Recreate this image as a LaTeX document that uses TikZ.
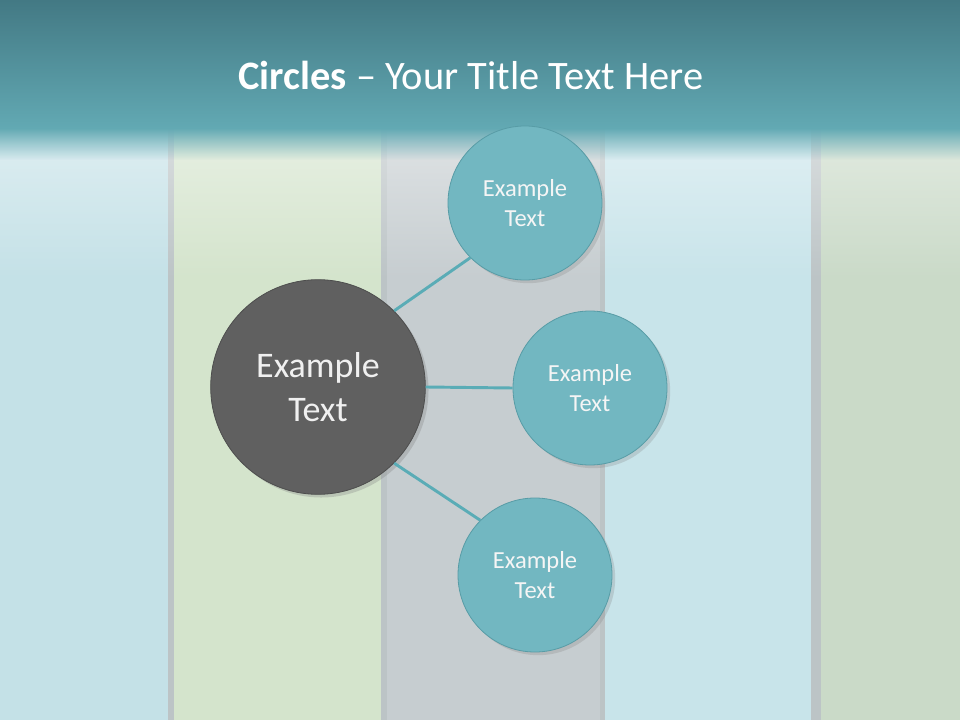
\documentclass[tikz,border=0pt]{standalone}
\usepackage{fontspec}
\setmainfont{Carlito}
\usetikzlibrary{positioning, calc, shadows, fadings}
\definecolor{headtop}{RGB}{67, 121, 132}
\definecolor{headbottom}{RGB}{98, 169, 179}
\definecolor{plankblue}{RGB}{196, 225, 231}
\definecolor{plankgreen}{RGB}{212, 228, 204}
\definecolor{plankgray}{RGB}{198, 205, 208}
\definecolor{plankaqua}{RGB}{200, 228, 234}
\definecolor{planksage}{RGB}{202, 218, 200}
\definecolor{plankgap}{RGB}{188, 196, 198}
\definecolor{circleteal}{RGB}{114, 183, 193}
\definecolor{circleedge}{RGB}{88, 156, 166}
\definecolor{circlegray}{RGB}{96, 96, 96}
\definecolor{linkteal}{RGB}{90, 172, 182}
\tikzfading[name=fadedown, top color=transparent!0, bottom color=transparent!100]

\begin{document}
\begin{tikzpicture}[x=0.75pt, y=-0.75pt,
    hubcircle/.style={circle, fill=circlegray, draw=circlegray!80!black, line width=0.6pt,
        minimum size=161pt, inner sep=0pt, align=center, text=white!94!black,
        font=\fontsize{27}{33}\selectfont, drop shadow={opacity=0.3}},
    leafcircle/.style={circle, fill=circleteal, draw=circleedge, line width=0.6pt,
        minimum size=115.5pt, inner sep=0pt, align=center, text=white!96!black,
        font=\fontsize{18.4}{22.5}\selectfont, drop shadow={opacity=0.25}},
    link/.style={draw=linkteal, line width=2.2pt}]
        \useasboundingbox (0,0) rectangle (960,720);
        % wooden planks
        \fill[plankgap] (0,0) rectangle (960,720);
        \fill[plankblue] (0,0) rectangle (168,720);
        \fill[plankgreen] (174,0) rectangle (381,720);
        \fill[plankgray] (387,0) rectangle (600,720);
        \fill[plankaqua] (605,0) rectangle (811,720);
        \fill[planksage] (821,0) rectangle (960,720);
        % header band
        \fill[white, opacity=0.45, path fading=fadedown] (0,128) rectangle (960,280);
        \fill[headbottom, path fading=fadedown] (0,128) rectangle (960,160);
        \shade[top color=headtop, bottom color=headbottom] (0,0) rectangle (960,128);
        \node (title) at (471,75) {\color{white}\fontsize{30.3}{34}\selectfont\textbf{Circles} -- Your Title Text Here};
        % circles
        \node[hubcircle] (hub) at (318,387) {Example\\Text};
        \node[leafcircle] (leafA) at (525,203) {Example\\Text};
        \node[leafcircle] (leafB) at (590,388) {Example\\Text};
        \node[leafcircle] (leafC) at (535,575) {Example\\Text};
        \draw[link] (hub.45) -- (leafA.225);
        \draw[link] (hub.0) -- (leafB.180);
        \draw[link] (hub.-45) -- (leafC.135);
    \end{tikzpicture}
\end{document}
